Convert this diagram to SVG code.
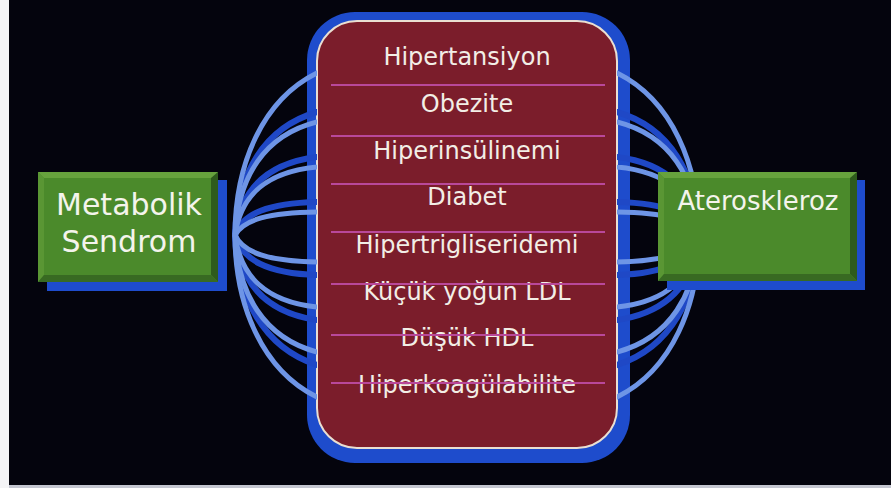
<svg xmlns="http://www.w3.org/2000/svg" xmlns:xlink="http://www.w3.org/1999/xlink" width="891" height="488" viewBox="0 0 891 488">
<style>
.item{font-family:"DejaVu Sans","Liberation Sans",sans-serif;font-size:24px;fill:#f2eee6;text-anchor:middle}
.big{font-family:"DejaVu Sans","Liberation Sans",sans-serif;fill:#f4f4ec;text-anchor:middle}
.sep{stroke:#b9489a;stroke-width:2}
.lite{fill:none;stroke:#6e95e6;stroke-width:5}
.dark{fill:none;stroke:#1f48c6;stroke-width:6}
.face{fill:#4b8a2b}
.bt{fill:#67a23d}.bl{fill:#5a9634}.br{fill:#2e5b1c}.bb{fill:#386a22}
.shadow{fill:#1e4ccc}
</style>
<defs>
<clipPath id="fanclip">
<rect x="0" y="0" width="317" height="488"/>
<rect x="617" y="0" width="274" height="488"/>
</clipPath>
<g id="fan">
<path class="dark" d="M235,235 C237.4,173.8 263.9,127.6 317,112 L325,110"/>
<path class="dark" d="M235,235 C240.2,190.1 266.2,163.3 317,157 L325,156"/>
<path class="dark" d="M235,235 C243,213.4 268.4,203.1 317,202 L325,202"/>
<path class="dark" d="M235,235 C242.5,260.6 268,273.4 317,275 L325,275"/>
<path class="dark" d="M235,235 C239.75,282.9 265.8,312.5 317,320 L325,321"/>
<path class="dark" d="M235,235 C237,298.1 263.6,347.6 317,365 L325,368"/>
<path class="lite" d="M235,235 C235,165.3 262,100 317,73 L325,69"/>
<path class="lite" d="M235,235 C238,176.8 264.4,135.2 317,122 L325,120"/>
<path class="lite" d="M235,235 C240.8,194.7 266.6,171.8 317,167 L325,166"/>
<path class="lite" d="M235,235 C243.6,219.6 268.9,212.5 317,212 L325,212"/>
<path class="lite" d="M235,235 C243.3,252.9 268.7,261.2 317,262 L325,262"/>
<path class="lite" d="M235,235 C240.6,277.2 266.4,301.7 317,307 L325,308"/>
<path class="lite" d="M235,235 C237.8,294.4 264.2,337.9 317,352 L325,354"/>
<path class="lite" d="M235,235 C235,304.7 262,370 317,397 L325,401"/>
</g>
</defs>
<rect x="0" y="0" width="891" height="488" fill="#04040d"/>
<rect x="0" y="0" width="9" height="488" fill="#f4f4f6"/>
<rect x="9" y="485" width="882" height="3" fill="#c4c6d0"/>

<g id="risk-factors">
<rect x="307" y="12" width="323" height="451" rx="48" fill="#1e4ccc"/>
<rect x="317" y="21" width="300" height="427" rx="40" fill="#7b1d2b" stroke="#eadfd2" stroke-width="2"/>
<line class="sep" x1="331" y1="85" x2="605" y2="85"/>
<line class="sep" x1="331" y1="136" x2="605" y2="136"/>
<line class="sep" x1="331" y1="184" x2="605" y2="184"/>
<line class="sep" x1="331" y1="232" x2="605" y2="232"/>
<text class="item" x="467" y="65">Hipertansiyon</text>
<text class="item" x="467" y="112">Obezite</text>
<text class="item" x="467" y="159">Hiperinsülinemi</text>
<text class="item" x="467" y="205">Diabet</text>
<text class="item" x="467" y="253">Hipertrigliseridemi</text>
<text class="item" x="467" y="300">Küçük yoğun LDL</text>
<text class="item" x="467" y="346">Düşük HDL</text>
<text class="item" x="467" y="393">Hiperkoagülabilite</text>
<line class="sep" x1="331" y1="284" x2="605" y2="284"/>
<line class="sep" x1="331" y1="335" x2="605" y2="335"/>
<line class="sep" x1="331" y1="383" x2="605" y2="383"/>
</g>

<g id="connectors" clip-path="url(#fanclip)">
<use xlink:href="#fan" href="#fan"/>
<use xlink:href="#fan" href="#fan" transform="matrix(-1 0 0 1 934 0)"/>
</g>

<g id="metabolik-sendrom">
<rect class="shadow" x="47" y="180" width="180" height="111"/>
<rect class="face" x="38" y="172" width="180" height="110"/>
<polygon class="bt" points="38,172 218,172 212,178 44,178"/>
<polygon class="bl" points="38,172 44,178 44,275 38,282"/>
<polygon class="br" points="218,172 218,282 211,275 211,178"/>
<polygon class="bb" points="38,282 218,282 211,275 44,275"/>
<text class="big" x="129" y="215" font-size="30">Metabolik</text>
<text class="big" x="129" y="252" font-size="30">Sendrom</text>
</g>

<g id="ateroskleroz">
<rect class="shadow" x="667" y="180" width="198" height="110"/>
<rect class="face" x="658" y="172" width="199" height="109"/>
<polygon class="bt" points="658,172 857,172 851,178 664,178"/>
<polygon class="bl" points="658,172 664,178 664,274 658,281"/>
<polygon class="br" points="857,172 857,281 850,274 850,178"/>
<polygon class="bb" points="658,281 857,281 850,274 664,274"/>
<text class="big" x="758" y="210" font-size="26">Ateroskleroz</text>
</g>
</svg>
